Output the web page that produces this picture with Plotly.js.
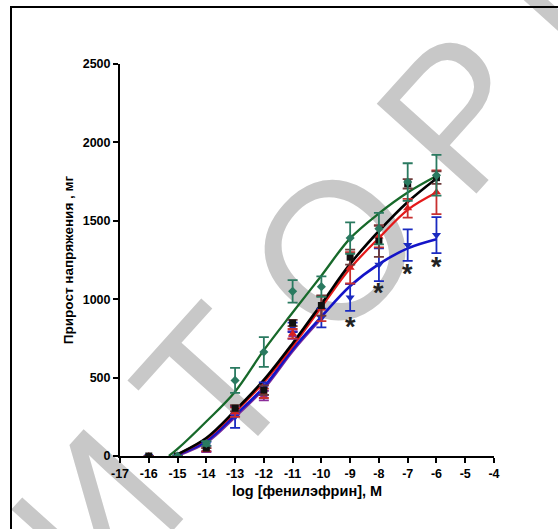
<!DOCTYPE html>
<html>
<head>
<meta charset="utf-8">
<script src="https://cdn.plot.ly/plotly-3.0.1.min.js"></script>
<style>
  html, body { margin:0; padding:0; background:#fff; }
  #wrap { position:relative; width:558px; height:529px; overflow:hidden; background:#fff; }
  #wm { position:absolute; left:0; top:0; width:558px; height:529px; overflow:hidden; z-index:0; }
  .ltr { position:absolute; font-family:"Liberation Sans", Arial, sans-serif; font-size:195px; line-height:1;
         color:#c8c8c8; white-space:nowrap; }
  #frame { position:absolute; left:10px; top:6px; width:700px; height:700px; border-left:2px solid #000; border-top:2px solid #000; z-index:1; }
  #plot { position:absolute; left:0; top:0; width:558px; height:529px; z-index:2; }
</style>
</head>
<body>
<div id="wrap">
  <div id="wm"></div>
  <div id="frame"></div>
  <div id="plot"></div>
</div>
<script>
// ---- data ----
const doses = [-16, -15, -14, -13, -12, -11, -10, -9, -8, -7, -6];

const greenMean  = [null, 0, 80, 482, 663, 1050, 1080, 1390, 1450, 1747, 1790];
const greenErr   = [0, 0, 15, 80, 95, 72, 65, 100, 100, 120, 130];

const blackMean  = [0, 0, 50, 305, 420, 848, 960, 1268, 1370, 1736, 1775];
const blackErr   = [0, 0, 0, 20, 30, 20, 65, 48, 100, 30, 40];

const redMean    = [0, 0, 40, 280, 400, 780, 940, 1200, 1400, 1580, 1682];
const redErr     = [0, 0, 10, 30, 30, 30, 80, 100, 70, 60, 140];

const blueMean   = [0, 0, 60, 250, 430, 820, 880, 1011, 1220, 1345, 1409];
const blueErr    = [0, 0, 30, 70, 40, 30, 60, 85, 105, 100, 115];

const purpleDoses = [-14, -13, -12, -11];
const purpleMean  = [45, 290, 385, 772];
const purpleErr   = [20, 25, 30, 25];

// fitted curves
const greenCurveX = [-15.3, -15, -14, -13, -12, -11, -10, -9, -8, -7, -6];
const greenCurveY = [0, 45, 220, 410, 675, 915, 1150, 1388, 1547, 1680, 1785];

const fitX        = [-15.1, -15, -14, -13, -12, -11, -10, -9, -8, -7, -6];
const blackCurveY = [0, 10, 115, 290, 485, 718, 970, 1225, 1435, 1620, 1770];
const redCurveY   = [0, 10, 110, 280, 470, 700, 950, 1197, 1390, 1570, 1680];
const blueCurveY  = [0, 8, 95, 260, 440, 680, 888, 1084, 1224, 1324, 1382];
const purpleCurveX = [-15.1, -15, -14, -13, -12, -11, -10];
const purpleCurveY = [0, 5, 88, 252, 432, 672, 880];

// significance marks
const starDoses = [-9, -8, -7, -6];
const starY     = [857, 1069, 1191, 1240];

// axis ticks and titles
const xTickVals = [-17, -16, -15, -14, -13, -12, -11, -10, -9, -8, -7, -6, -5, -4];
const xTickText = ["-17", "-16", "-15", "-14", "-13", "-12", "-11", "-10", "-9", "-8", "-7", "-6", "-5", "-4"];
const yTickVals = [0, 500, 1000, 1500, 2000, 2500];
const yTickText = ["0", "500", "1000", "1500", "2000", "2500"];
const xTitle = "log [фенилэфрин], M";
const yTitle = "Прирост напряжения , мг";

// watermark letters (repository stamp, partly outside the picture)
const wmLetters = ["З", "И", "Т", "О", "Р", "И", "Й"];
const wmAdvance = [0.56, 0.722, 0.611, 0.778, 0.667, 0.722, 0.722];

(function(){
  const fs = 195, ang = 48 * Math.PI / 180, gap = 45;
  const ux = Math.cos(ang), uy = -Math.sin(ang);
  const tIdx = 2, cT = [214, 384];
  const wm = document.getElementById('wm');
  let s = 0; const pos = [0];
  for (let i = 1; i < wmLetters.length; i++) { s += (wmAdvance[i-1] + wmAdvance[i]) / 2 * fs + gap; pos.push(s); }
  for (let i = 0; i < wmLetters.length; i++) {
    const d = pos[i] - pos[tIdx];
    const el = document.createElement('div');
    el.className = 'ltr';
    el.textContent = wmLetters[i];
    el.style.left = (cT[0] + d * ux) + 'px';
    el.style.top = (cT[1] + d * uy) + 'px';
    el.style.transform = 'translate(-50%,-50%) rotate(-48deg)';
    wm.appendChild(el);
  }
})();

function pts(x, y, err, color, symbol, size, ecolor) {
  return { x: x, y: y, type: 'scatter', mode: 'markers',
    marker: { color: color, symbol: symbol, size: size },
    error_y: { type: 'data', array: err, visible: true, color: ecolor || color, thickness: 1.8, width: 5 },
    hoverinfo: 'skip', showlegend: false };
}
function curve(x, y, color, w) {
  return { x: x, y: y, type: 'scatter', mode: 'lines',
    line: { color: color, width: w, shape: 'spline', smoothing: 1 }, hoverinfo: 'skip', showlegend: false };
}

const traces = [
  curve(purpleCurveX, purpleCurveY, '#7a2a9a', 3.2),
  curve(fitX, blueCurveY, '#1414c8', 2.6),
  curve(fitX, redCurveY, '#e41a1a', 2.3),
  curve(fitX, blackCurveY, '#000000', 2.6),
  curve(greenCurveX, greenCurveY, '#17692a', 2.3),
  pts(purpleDoses, purpleMean, purpleErr, '#8a2c9a', 'triangle-up', 8),
  pts(doses, blueMean, blueErr, '#1a2ac0', 'triangle-down', 8),
  pts(doses, redMean, redErr, '#d82020', 'triangle-up', 8, '#c83030'),
  pts(doses, blackMean, blackErr, '#111111', 'square', 7, '#6e3b3b'),
  pts(doses, greenMean, greenErr, '#2a7a60', 'diamond', 7)
];

const annotations = starDoses.map((d, i) => ({
  x: d, y: starY[i], xref: 'x', yref: 'y', text: '<b>*</b>', showarrow: false,
  font: { family: 'Liberation Sans, Arial, sans-serif', size: 27, color: '#222' },
  xanchor: 'center', yanchor: 'middle', yshift: -5
}));

const FAM = 'Liberation Sans, Arial, sans-serif';
const tickFont = { family: FAM, size: 12.5, color: '#000' };
const bold = a => a.map(t => '<b>' + t + '</b>');
const layout = {
  width: 558, height: 529,
  margin: { l: 120, r: 64, t: 64, b: 73 },
  paper_bgcolor: 'rgba(0,0,0,0)', plot_bgcolor: 'rgba(0,0,0,0)',
  showlegend: false,
  xaxis: { range: [-17, -4], tickmode: 'array', tickvals: xTickVals, ticktext: bold(xTickText),
    ticks: 'outside', ticklen: 5, tickwidth: 2, tickcolor: '#000',
    showline: true, linewidth: 2, linecolor: '#000', showgrid: false, zeroline: false, tickfont: tickFont,
    title: { text: '<b>' + xTitle + '</b>', font: { family: FAM, size: 14.5, color: '#000' }, standoff: 6 } },
  yaxis: { range: [0, 2500], tickmode: 'array', tickvals: yTickVals, ticktext: bold(yTickText),
    ticks: 'outside', ticklen: 5, tickwidth: 2, tickcolor: '#000',
    showline: true, linewidth: 2, linecolor: '#000', showgrid: false, zeroline: false, tickfont: tickFont,
    title: { text: '<b>' + yTitle + '</b>', font: { family: FAM, size: 13.5, color: '#000' }, standoff: 6 } },
  annotations: annotations
};

Plotly.newPlot('plot', traces, layout, { staticPlot: true, displayModeBar: false });
</script>
</body>
</html>
